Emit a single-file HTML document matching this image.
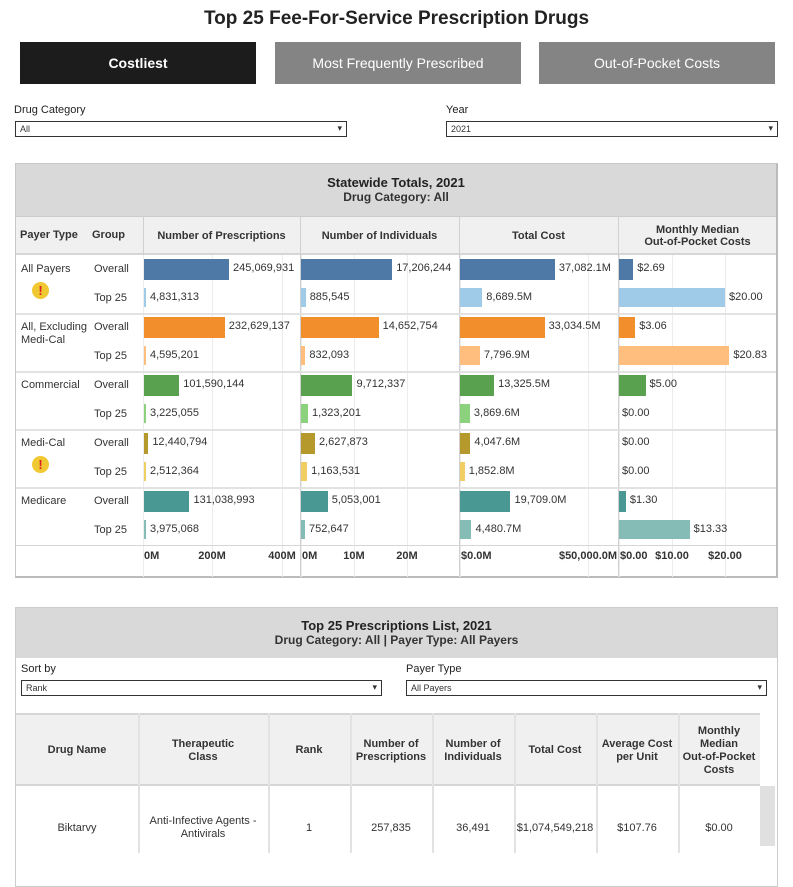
<!DOCTYPE html>
<html><head><meta charset="utf-8"><style>
*{box-sizing:border-box;margin:0;padding:0}
body{width:793px;height:843px;overflow:hidden;background:#fff;font-family:"Liberation Sans",Arial,sans-serif;color:#333;position:relative}
.a{position:absolute}
.btn{position:absolute;top:42px;height:42px;color:#fff;font-size:14px;display:flex;align-items:center;justify-content:center}
.sel{position:absolute;height:16px;border:1px solid #333;font-size:9px;padding:2px 4px;background:#fff}
.sel:after{content:"▾";position:absolute;right:4px;top:1px;font-size:9px}
.lbl{position:absolute;font-size:11px;color:#222}
.t{position:absolute;font-size:11px;color:#333;white-space:nowrap}
.b{position:absolute}
.ctr{position:absolute;text-align:center;font-size:11px;color:#333;display:flex;align-items:center;justify-content:center}
</style></head><body>
<div class="a" style="left:0;width:793px;top:8px;text-align:center;font-size:19px;font-weight:bold;color:#222">Top 25 Fee-For-Service Prescription Drugs</div>
<div class="btn" style="left:20px;width:236px;background:#1c1c1c;font-weight:bold">Costliest</div>
<div class="btn" style="left:275px;width:246px;background:#848484">Most Frequently Prescribed</div>
<div class="btn" style="left:539px;width:236px;background:#848484">Out-of-Pocket Costs</div>
<div class="lbl" style="left:14px;top:104px">Drug Category</div>
<div class="sel" style="left:15px;top:121px;width:332px">All</div>
<div class="lbl" style="left:446px;top:104px">Year</div>
<div class="sel" style="left:446px;top:121px;width:332px">2021</div>

<div class="a" style="left:15px;top:163px;width:763px;height:415px;border:1px solid #c8c8c8;border-right:2px solid #bbb;border-bottom:2px solid #bbb"></div>
<div class="a" style="left:16px;top:164px;width:760px;height:52px;background:#d9d9d9;text-align:center;padding-top:11px;font-weight:bold;font-size:13px;color:#222">Statewide Totals, 2021<div style="font-size:12px;font-weight:bold;color:#333">Drug Category: All</div></div>
<div class="a" style="left:16px;top:216px;width:760px;height:39px;background:#f0f0f0;border-top:1px solid #ccc;border-bottom:2px solid #d6d6d6"></div>
<div id="g"></div>

<div class="a" style="left:15px;top:607px;width:763px;height:280px;border:1px solid #ccc"></div>
<div class="a" style="left:16px;top:608px;width:761px;height:50px;background:#d9d9d9;text-align:center;padding-top:10px;font-weight:bold;font-size:13px;color:#222">Top 25 Prescriptions List, 2021<div style="font-size:12px;color:#333">Drug Category: All | Payer Type: All Payers</div></div>
<div class="lbl" style="left:21px;top:663px">Sort by</div>
<div class="sel" style="left:21px;top:680px;width:361px">Rank</div>
<div class="lbl" style="left:406px;top:663px">Payer Type</div>
<div class="sel" style="left:406px;top:680px;width:361px">All Payers</div>
<div class="a" style="left:16px;top:713px;width:744px;height:73px;background:#f0f0f0;border-top:2px solid #d6d6d6;border-bottom:2px solid #d6d6d6"></div>
<div class="a" style="left:760px;top:786px;width:15px;height:60px;background:#e0e0e0"></div>
<div id="t"></div>
<script>
let h='';
const cols=[15,88,143,300,459,618,777];
[143,300,459,618].forEach(x=>h+=`<div class="a" style="left:${x}px;top:216px;width:1px;height:361px;background:#d0d0d0"></div>`);
h+=`<div class="t" style="left:20px;top:229px;font-weight:bold">Payer Type</div><div class="t" style="left:92px;top:229px;font-weight:bold">Group</div>`;
const hd=['Number of Prescriptions','Number of Individuals','Total Cost','Monthly Median<br>Out-of-Pocket Costs'];
hd.forEach((s,i)=>h+=`<div class="ctr" style="left:${cols[i+2]}px;width:${cols[i+3]-cols[i+2]}px;top:217px;height:38px;font-weight:bold;line-height:12px">${s}</div>`);
const grid=[[143,212,282],[301,354,407],[460,588],[619,672,725]];
grid.forEach(g=>g.forEach(x=>h+=`<div class="a" style="left:${x}px;top:255px;width:1px;height:322px;background:#ececec"></div>`));
const rows=[
['All Payers','#4e79a7','#a0cbe8',[245.07,4.83],['245,069,931','4,831,313'],[17.206,0.8855],['17,206,244','885,545'],[37082,8689.5],['37,082.1M','8,689.5M'],[2.69,20],['$2.69','$20.00'],1],
['All, Excluding<br>Medi-Cal','#f28e2b','#ffbe7d',[232.63,4.6],['232,629,137','4,595,201'],[14.65,0.832],['14,652,754','832,093'],[33034.5,7796.9],['33,034.5M','7,796.9M'],[3.06,20.83],['$3.06','$20.83'],0],
['Commercial','#59a14f','#8cd17d',[101.59,3.23],['101,590,144','3,225,055'],[9.71,1.323],['9,712,337','1,323,201'],[13325.5,3869.6],['13,325.5M','3,869.6M'],[5,0],['$5.00','$0.00'],0],
['Medi-Cal','#b6992d','#f1ce63',[12.44,2.51],['12,440,794','2,512,364'],[2.63,1.16],['2,627,873','1,163,531'],[4047.6,1852.8],['4,047.6M','1,852.8M'],[0,0],['$0.00','$0.00'],1],
['Medicare','#499894','#86bcb6',[131.04,3.98],['131,038,993','3,975,068'],[5.05,0.753],['5,053,001','752,647'],[19709,4480.7],['19,709.0M','4,480.7M'],[1.3,13.33],['$1.30','$13.33'],0]];
const sc=[[144,0.347],[301,5.3],[460,0.00256],[619,5.3]];
rows.forEach((r,i)=>{
 const y=255+i*58;
 if(i>0)h+=`<div class="a" style="left:16px;top:${y}px;width:760px;height:2px;background:#e2e2e2"></div>`;
 h+=`<div class="t" style="left:21px;top:${y+8}px;line-height:13px">${r[0]}</div>`;
 if(r[11])h+=`<div class="a" style="left:32px;top:${y+27}px;width:17px;height:17px;border-radius:50%;background:#f0c832;color:#d22;font-weight:bold;font-size:13px;text-align:center;line-height:17px">!</div>`;
 h+=`<div class="t" style="left:94px;top:${y+8}px">Overall</div><div class="t" style="left:94px;top:${y+37}px">Top 25</div>`;
 for(let c=0;c<4;c++){
  const v=r[3+c*2],l=r[4+c*2],[x0,k]=sc[c];
  for(let j=0;j<2;j++){
   const w=Math.max(v[j]*k, c==3&&v[j]==0?0:2);
   const yy=j?y+33:y+4, hh=j?19:21;
   if(w>0)h+=`<div class="b" style="left:${x0}px;top:${yy}px;width:${w}px;height:${hh}px;background:${j?r[2]:r[1]}"></div>`;
   h+=`<div class="t" style="left:${x0+w+(w>0?4:3)}px;top:${yy+3}px">${l[j]}</div>`;
  }
 }
});
h+=`<div class="a" style="left:16px;top:545px;width:760px;height:1px;background:#d6d6d6"></div>`;
const ax=[[144,'0M',0],[212,'200M',1],[282,'400M',1],[302,'0M',0],[354,'10M',1],[407,'20M',1],[461,'$0.0M',0],[588,'$50,000.0M',1],[620,'$0.00',0],[672,'$10.00',1],[725,'$20.00',1]];
ax.forEach(a=>h+=`<div class="t" style="left:${a[0]}px;top:550px;font-weight:bold;font-size:11px;${a[2]?'transform:translateX(-50%)':''}">${a[1]}</div>`);
document.getElementById('g').innerHTML=h;
let t='';
const tc=[16,138,268,350,432,514,596,678,760];
const th=['Drug Name','Therapeutic<br>Class','Rank','Number of<br>Prescriptions','Number of<br>Individuals','Total Cost','Average Cost<br>per Unit','Monthly<br>Median<br>Out-of-Pocket<br>Costs'];
const tr=['Biktarvy','Anti-Infective Agents -<br>Antivirals','1','257,835','36,491','$1,074,549,218','$107.76','$0.00'];
for(let i=0;i<8;i++){
 t+=`<div class="ctr" style="left:${tc[i]}px;width:${tc[i+1]-tc[i]}px;top:715px;height:71px;font-weight:bold;line-height:13px">${th[i]}</div>`;
 t+=`<div class="ctr" style="left:${tc[i]}px;width:${tc[i+1]-tc[i]}px;top:815px;height:26px;line-height:13px">${tr[i]}</div>`;
 if(i>0)t+=`<div class="a" style="left:${tc[i]}px;top:713px;width:2px;height:140px;background:#e2e2e2"></div>`;
}
document.getElementById('t').innerHTML=t;
</script>
</body></html>
